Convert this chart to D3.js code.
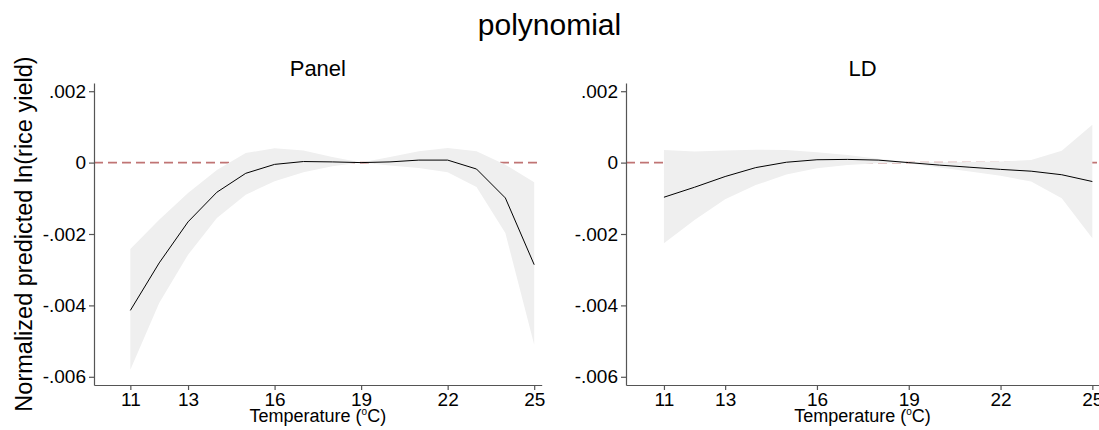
<!DOCTYPE html>
<html>
<head>
<meta charset="utf-8">
<style>
    body { margin: 0; background: #fff; }
    svg { display: block; font-family: "Liberation Sans", Arial, sans-serif; }
    .axis path, .axis line { stroke: #555; stroke-width: 1.2px; }
    .axis text { font-size: 19px; fill: #000; }
    line.zero { stroke: #c07474; stroke-width: 1.6px; stroke-dasharray: 9 5; }
    path.band { fill: #efefef; stroke: none; }
    path.fit { fill: none; stroke: #000; stroke-width: 1px; }
</style>
</head>
<body>
<div id="chart"></div>
<script src="https://cdn.jsdelivr.net/npm/d3@7"></script>
<script>

    var temps = [11, 12, 13, 14, 15, 16, 17, 18, 19, 20, 21, 22, 23, 24, 25];

    // Panel estimates
    var panelFit = [-0.00414, -0.00281, -0.00166, -0.00083, -0.00030, -0.00005, 0.00003, 0.00002, 0.00000, 0.00002, 0.00007, 0.00007, -0.00018, -0.00099, -0.00286];
    var panelHi  = [-0.00242, -0.00160, -0.00085, -0.00021, 0.00027, 0.00040, 0.00034, 0.00016, 0.00000, 0.00016, 0.00032, 0.00041, 0.00032, -0.00006, -0.00055];
    var panelLo  = [-0.00580, -0.00393, -0.00258, -0.00155, -0.00090, -0.00052, -0.00027, -0.00010, 0.00000, -0.00008, -0.00015, -0.00027, -0.00068, -0.00197, -0.00510];

    // LD estimates
    var ldFit = [-0.00097, -0.00069, -0.00039, -0.00014, 0.00001, 0.00008, 0.00009, 0.00007, 0.00000, -0.00007, -0.00013, -0.00019, -0.00024, -0.00034, -0.00053];
    var ldHi  = [0.00035, 0.00031, 0.00034, 0.00036, 0.00035, 0.00029, 0.00021, 0.00011, 0.00002, 0.00001, 0.00002, 0.00003, 0.00007, 0.00033, 0.00106];
    var ldLo  = [-0.00226, -0.00161, -0.00103, -0.00063, -0.00033, -0.00016, -0.00007, -0.00002, -0.00002, -0.00014, -0.00025, -0.00037, -0.00053, -0.00100, -0.00212];

    var xTicks = [11, 13, 16, 19, 22, 25];
    var yTicks = [-0.006, -0.004, -0.002, 0, 0.002];

    var width = 1099, height = 430;
    var plotTop = 83, plotBottom = 385;

    var svg = d3.select("#chart").append("svg")
        .attr("width", width)
        .attr("height", height);

    svg.append("text")
        .attr("x", width / 2)
        .attr("y", 35)
        .attr("text-anchor", "middle")
        .style("font-size", "30px")
        .text("polynomial");

    svg.append("text")
        .attr("transform", "translate(32," + ((plotTop + plotBottom) / 2) + ") rotate(-90)")
        .attr("text-anchor", "middle")
        .style("font-size", "23.5px")
        .text("Normalized predicted ln(rice yield)");

    function fmt(v) {
        if (v === 0) return "0";
        return (v < 0 ? "-" : "") + Math.abs(v).toFixed(3).replace(/^0/, "");
    }

    var panels = [
        {title: "Panel", left: 94, right: 541.7, xDomain: [9.74, 25.26], fit: panelFit, lo: panelLo, hi: panelHi},
        {title: "LD", left: 626, right: 1100.3, xDomain: [9.76, 25.26], fit: ldFit, lo: ldLo, hi: ldHi}
    ];

    panels.forEach(function (p) {
        var x = d3.scaleLinear().domain(p.xDomain).range([p.left, p.right]);
        var y = d3.scaleLinear().domain([-0.00623, 0.00223]).range([plotBottom, plotTop]);
        var g = svg.append("g");

        g.append("line")
            .attr("class", "zero")
            .attr("x1", p.left)
            .attr("x2", p.right)
            .attr("y1", y(0))
            .attr("y2", y(0));

        var band = d3.area()
            .x(function (d, i) { return x(temps[i]); })
            .y0(function (d, i) { return y(p.lo[i]); })
            .y1(function (d, i) { return y(p.hi[i]); });

        g.append("path")
            .attr("class", "band")
            .attr("d", band(temps));

        var line = d3.line()
            .x(function (d, i) { return x(temps[i]); })
            .y(function (d) { return y(d); });

        g.append("path")
            .attr("class", "fit")
            .attr("d", line(p.fit));

        g.append("g")
            .attr("class", "axis")
            .attr("transform", "translate(" + p.left + ",0)")
            .call(d3.axisLeft(y).tickValues(yTicks).tickFormat(fmt).tickSize(5).tickSizeOuter(0).tickPadding(3));

        g.append("g")
            .attr("class", "axis")
            .attr("transform", "translate(0," + plotBottom + ")")
            .call(d3.axisBottom(x).tickValues(xTicks).tickFormat(d3.format("d")).tickSize(5).tickSizeOuter(0).tickPadding(3));

        g.selectAll(".axis").attr("font-family", null).attr("font-size", null);

        g.append("text")
            .attr("x", (p.left + Math.min(p.right, width)) / 2)
            .attr("y", 76)
            .attr("text-anchor", "middle")
            .style("font-size", "22px")
            .text(p.title);

        var xt = g.append("text")
            .attr("x", (p.left + Math.min(p.right, width)) / 2)
            .attr("y", 422)
            .attr("text-anchor", "middle")
            .style("font-size", "18px");
        xt.append("tspan").text("Temperature (");
        xt.append("tspan").attr("dy", -7).style("font-size", "10px").text("o");
        xt.append("tspan").attr("dy", 7).text("C)");
    });

</script>
</body>
</html>
